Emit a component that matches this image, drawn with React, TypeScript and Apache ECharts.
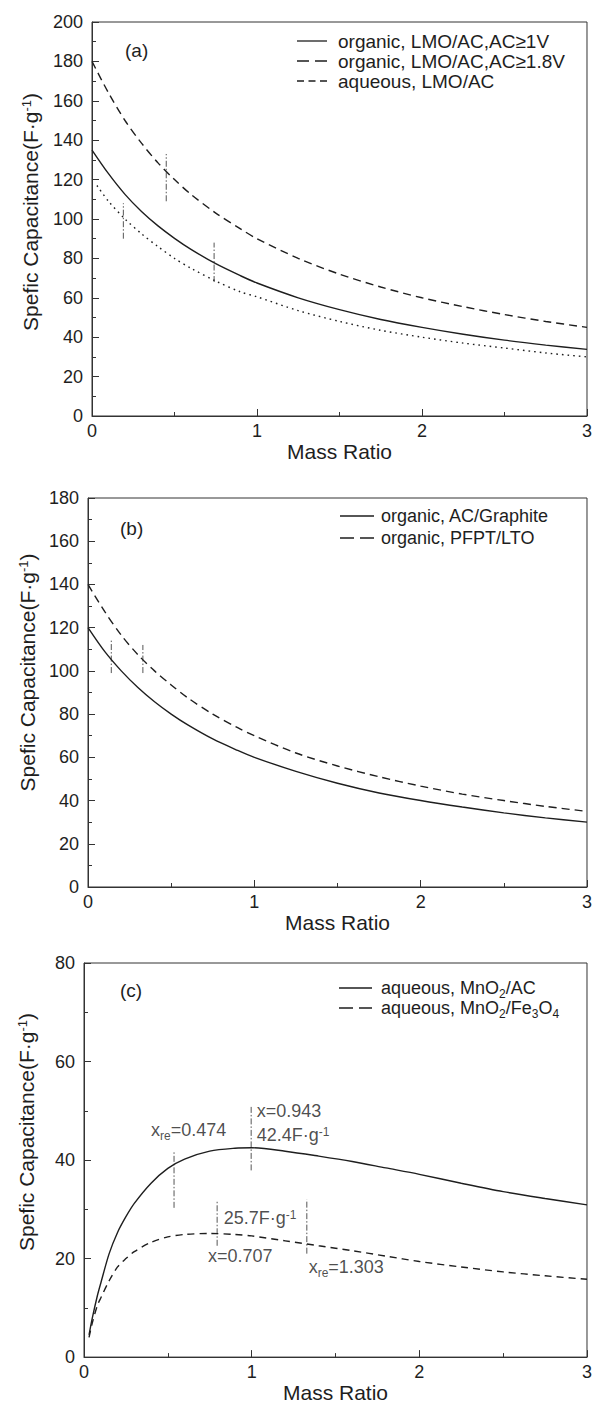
import React, { useEffect, useRef } from "react";
import * as echarts from "echarts";

const FONT = "'Liberation Sans', Arial, Helvetica, sans-serif";
const INK = "#1e1e1e";
const AXIS = "#333333";
const MARK = "#555555";

// ---------- Panel (a) ----------
const xA = [0, 0.1, 0.2, 0.3, 0.4, 0.5, 0.6, 0.75, 0.9, 1.0, 1.25, 1.5, 1.75, 2.0, 2.25, 2.5, 2.75, 3.0];
const aOrganic1V = [135, 123, 112.5, 103.8, 96.5, 90.2, 84.6, 77.3, 71.2, 67.5, 60, 54, 49, 45, 41.5, 38.5, 36, 33.8];
const aOrganic18V = [180, 164, 150, 138.5, 128.5, 120, 112.5, 103, 95, 90, 80, 72, 65.5, 60, 55.5, 51.5, 48, 45];
const xAqA = [0.03, 0.1, 0.2, 0.3, 0.4, 0.5, 0.6, 0.75, 0.9, 1.0, 1.25, 1.5, 1.75, 2.0, 2.25, 2.5, 2.75, 3.0];
const aAqueous = [117, 109, 100, 92.5, 86, 80, 75, 68.5, 63, 60.5, 53.5, 48, 43.5, 40, 37, 34.5, 32, 30];
const aMarkX = [0.19, 0.45, 0.74];
const aMarkLow = [90, 109, 68];
const aMarkHigh = [108, 133, 88];
const aLegend = ["organic, LMO/AC,AC≥1V", "organic, LMO/AC,AC≥1.8V", "aqueous, LMO/AC"];

// ---------- Panel (b) ----------
const xB = [0, 0.1, 0.2, 0.3, 0.4, 0.5, 0.6, 0.75, 0.9, 1.0, 1.25, 1.5, 1.75, 2.0, 2.25, 2.5, 2.75, 3.0];
const bGraphite = [120, 109, 100, 92.3, 85.7, 80, 75, 68.5, 63.2, 60, 53.5, 48, 43.5, 40, 37, 34.3, 32, 30];
const bPfpt = [140, 127.5, 116.5, 107.5, 100, 93.5, 87.5, 80, 73.7, 70, 62, 56, 51, 46.7, 43, 40, 37.3, 35];
const bMarkX = [0.14, 0.33];
const bMarkLow = [99, 99];
const bMarkHigh = [114, 112];
const bLegend = ["organic, AC/Graphite", "organic, PFPT/LTO"];

// ---------- Panel (c) ----------
const xC = [0.03, 0.05, 0.08, 0.1, 0.15, 0.2, 0.25, 0.3, 0.4, 0.5, 0.6, 0.75, 0.9, 1.0, 1.2, 1.4, 1.6, 1.8, 2.0, 2.25, 2.5, 2.75, 3.0];
const cMnAC = [4.5, 8, 12.5, 15, 21, 25.3, 28.5, 31.2, 35.3, 38.3, 40.2, 41.8, 42.4, 42.5, 41.8, 40.8, 39.7, 38.4, 37.1, 35.3, 33.6, 32.2, 30.9];
const cMnFe = [4, 7, 10.5, 12, 15.5, 18.3, 20.0, 21.4, 23.3, 24.4, 24.9, 25.1, 24.9, 24.6, 23.6, 22.6, 21.6, 20.5, 19.4, 18.3, 17.3, 16.5, 15.8];
const cMarkX = [0.537, 0.997, 0.794, 1.329];
const cMarkLow = [30.3, 37.9, 22.6, 21];
const cMarkHigh = [41.9, 50.8, 31.9, 32];
const cNoteX = [0.4, 1.03, 1.03, 0.834, 0.74, 1.34];
const cNoteY = [46, 50, 45, 28.3, 20.5, 18.3];
const cNoteText = [
  "{i|x}{sub|re}{i|=0.474}",
  "{j|x=0.943}",
  "{j|42.4F·g}{sup|-1}",
  "{j|25.7F·g}{sup|-1}",
  "{j|x=0.707}",
  "{i|x}{sub|re}{i|=1.303}",
];
const cLegend = ["{t|aqueous, MnO}{sub|2}{t|/AC}", "{t|aqueous, MnO}{sub|2}{t|/Fe}{sub|3}{t|O}{sub|4}"];

const X_TITLE = "Mass Ratio";
const Y_TITLE = "{t|Spefic Capacitance(F·g}{sup|-1}{t|)}";

// subscript geometry: main tokens top-aligned (18px box), sub tokens bottom-aligned in a taller line
const SUB_BOX = 21;
const SUB_SHIFT = SUB_BOX / 2 - 9;

function pairs(xs: number[], ys: number[]) {
  return xs.map((x, i) => [x, ys[i]]);
}

function curve(idx: number, name: string, xs: number[], ys: number[], dash: any, width = 1.4) {
  return {
    type: "line",
    name,
    xAxisIndex: idx,
    yAxisIndex: idx,
    data: pairs(xs, ys),
    smooth: 0.3,
    symbol: "none",
    lineStyle: { color: INK, width, type: dash },
    z: 3,
  };
}

function markers(idx: number, xs: number[], lows: number[], highs: number[]) {
  return xs.map((x, i) => ({
    type: "line",
    xAxisIndex: idx,
    yAxisIndex: idx,
    data: [
      [x, lows[i]],
      [x, highs[i]],
    ],
    symbol: "none",
    silent: true,
    lineStyle: { color: MARK, width: 1, type: [6, 2, 1.5, 2] },
    z: 2,
  }));
}

function xAxisCfg(idx: number) {
  return {
    gridIndex: idx,
    type: "value",
    min: 0,
    max: 3,
    interval: 1,
    axisLine: { show: true, lineStyle: { color: AXIS, width: 1 } },
    axisTick: { show: true, inside: true, length: 7, lineStyle: { color: AXIS, width: 1 } },
    minorTick: { show: true, splitNumber: 2, length: 4, lineStyle: { color: AXIS, width: 1 } },
    splitLine: { show: false },
    minorSplitLine: { show: false },
    axisLabel: { color: INK, fontSize: 18, margin: 6, fontFamily: FONT },
    name: X_TITLE,
    nameLocation: "middle",
    nameGap: 22,
    nameTextStyle: { color: INK, fontSize: 21, fontFamily: FONT },
  };
}

function yAxisCfg(idx: number, max: number, gap: number, pad: number) {
  return {
    gridIndex: idx,
    type: "value",
    min: 0,
    max,
    interval: 20,
    axisLine: { show: true, lineStyle: { color: AXIS, width: 1 } },
    axisTick: { show: true, inside: true, length: 7, lineStyle: { color: AXIS, width: 1 } },
    minorTick: { show: true, splitNumber: 2, length: 4, lineStyle: { color: AXIS, width: 1 } },
    splitLine: { show: false },
    minorSplitLine: { show: false },
    axisLabel: { color: INK, fontSize: 18, margin: 9, fontFamily: FONT },
    name: Y_TITLE,
    nameLocation: "middle",
    nameRotate: 90,
    nameGap: gap,
    nameTextStyle: {
      color: INK,
      fontSize: 21,
      fontFamily: FONT,
      padding: [0, 0, 0, pad],
      rich: {
        t: { fontSize: 21, fontFamily: FONT, color: INK },
        sup: { fontSize: 13, fontFamily: FONT, color: INK, verticalAlign: "top" },
      },
    },
  };
}

const richText = {
  t: { fontSize: 18, fontFamily: FONT, color: INK, lineHeight: 18, verticalAlign: "top" },
  i: { fontSize: 18, fontFamily: FONT, color: INK, lineHeight: 18, verticalAlign: "top" },
  j: { fontSize: 18, fontFamily: FONT, color: INK },
  sub: { fontSize: 12, fontFamily: FONT, color: INK, lineHeight: SUB_BOX, verticalAlign: "bottom" },
  sup: { fontSize: 12, fontFamily: FONT, color: INK, verticalAlign: "top" },
};

function legendLine(x1: number, x2: number, y: number, dash: any) {
  return {
    type: "line",
    shape: { x1, y1: y, x2, y2: y },
    style: { stroke: INK, lineWidth: 1.3, lineDash: dash },
    silent: true,
  };
}

function label(x: number, y: number, text: string, size = 18, rich = false) {
  return {
    type: "text",
    x,
    y: rich ? y + SUB_SHIFT : y,
    silent: true,
    style: {
      text,
      fill: INK,
      fontSize: size,
      fontFamily: FONT,
      align: "left",
      verticalAlign: "middle",
      ...(rich ? { rich: richText } : {}),
    },
  };
}

export default function App() {
  const ref = useRef<HTMLDivElement>(null);

  useEffect(() => {
    if (!ref.current) return;
    const chart = echarts.init(ref.current, undefined, { renderer: "svg" });

    const grids = [
      { left: 92, right: 5, top: 22, height: 394 },
      { left: 88, right: 4, top: 498, height: 389 },
      { left: 84, right: 1, top: 963, height: 400 },
    ].map((g) => ({ ...g, show: true, borderColor: AXIS, borderWidth: 1, backgroundColor: "transparent" }));

    const series: any[] = [
      curve(0, aLegend[0], xA, aOrganic1V, "solid"),
      curve(0, aLegend[1], xA, aOrganic18V, [8, 5]),
      curve(0, aLegend[2], xAqA, aAqueous, [1.6, 4]),
      ...markers(0, aMarkX, aMarkLow, aMarkHigh),
      curve(1, bLegend[0], xB, bGraphite, "solid"),
      curve(1, bLegend[1], xB, bPfpt, [8, 5]),
      ...markers(1, bMarkX, bMarkLow, bMarkHigh),
      curve(2, "aqueous, MnO2/AC", xC, cMnAC, "solid"),
      curve(2, "aqueous, MnO2/Fe3O4", xC, cMnFe, [7, 5]),
      ...markers(2, cMarkX, cMarkLow, cMarkHigh),
      {
        type: "scatter",
        xAxisIndex: 2,
        yAxisIndex: 2,
        symbolSize: 0,
        silent: true,
        itemStyle: { color: INK },
        data: cNoteX.map((x, i) => ({
          value: [x, cNoteY[i]],
          name: cNoteText[i],
          label: { offset: [0, cNoteText[i].indexOf("{sub|") >= 0 ? SUB_SHIFT : 0] },
        })),
        label: {
          show: true,
          position: "right",
          distance: 0,
          color: INK,
          fontFamily: FONT,
          fontSize: 18,
          formatter: (p: any) => p.name,
          rich: richText,
        },
      },
    ];

    const graphic: any[] = [
      label(125, 50, "(a)", 19),
      legendLine(297, 327, 41, null),
      legendLine(297, 327, 61, [12, 6]),
      legendLine(297, 327, 81, [7, 4.5]),
      label(338, 41, aLegend[0], 19),
      label(338, 61, aLegend[1], 19),
      label(338, 81, aLegend[2], 19),

      label(120, 528, "(b)", 19),
      legendLine(340, 374, 516, null),
      legendLine(340, 374, 538, [14, 6]),
      label(381, 516, bLegend[0], 18),
      label(381, 538, bLegend[1], 18),

      label(120, 990, "(c)", 19),
      legendLine(339, 372, 988, null),
      legendLine(339, 372, 1008, [14, 6]),
      label(381, 988, cLegend[0], 18, true),
      label(381, 1008, cLegend[1], 18, true),
    ];

    chart.setOption({
      animation: false,
      backgroundColor: "#ffffff",
      textStyle: { fontFamily: FONT },
      grid: grids,
      xAxis: [xAxisCfg(0), xAxisCfg(1), xAxisCfg(2)],
      yAxis: [yAxisCfg(0, 200, 51, 14), yAxisCfg(1, 180, 49, 40), yAxisCfg(2, 80, 47, 56)],
      series,
      graphic,
    });

    return () => chart.dispose();
  }, []);

  return (
    <div
      ref={ref}
      style={{ position: "absolute", left: 0, top: 0, width: 595, height: 1404, background: "#fff" }}
    />
  );
}
